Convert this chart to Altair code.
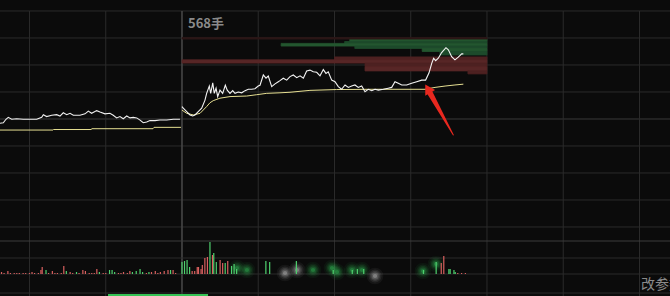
import altair as alt
import pandas as pd

W, H = 670, 296
X_DOMAIN = [-143.2, 384.0]      # minutes relative to today's open
P_DOMAIN = [-6.556, 4.407]      # price change, %
V_DOMAIN = [-22, 274]           # volume units

# ---- previous session -------------------------------------------------
prev_t = [-143.2, -140.6, -138.5, -136.7, -134.0, -130.1, -124.9, -119.6, -114.3, -110.4,
          -109.1, -106.5, -102.5, -98.6, -96.0, -93.4, -90.7, -88.1, -85.5, -80.3,
          -76.3, -73.7, -71.1, -67.1, -64.5, -60.6, -56.7, -54.1, -51.4, -48.8,
          -46.2, -43.5, -40.9, -38.3, -35.6, -33.0, -30.5, -27.8, -25.2, -21.2,
          -17.3, -12.0, -6.8, -1.6]
prev_p = [-0.16, -0.14, -0.01, 0.06, -0.01, 0.01, -0.01, -0.01, -0.01, 0.06,
          0.16, 0.09, 0.14, 0.16, 0.11, 0.23, 0.16, 0.21, 0.14, 0.14,
          0.19, 0.29, 0.21, 0.31, 0.26, 0.19, 0.21, 0.14, 0.04, 0.09,
          0.01, 0.11, 0.04, 0.06, 0.04, -0.04, -0.14, -0.11, -0.06, -0.06,
          -0.04, -0.04, -0.01, -0.01]
prev_avg_t = [-143.2, -101.5, -101.1, -71.6, -70.8, -22.8, -22.0, -0.8]
prev_avg_p = [-0.41, -0.41, -0.39, -0.39, -0.36, -0.36, -0.31, -0.31]

# ---- today ------------------------------------------------------------
day_t = [0, 1.0, 3.7, 6.3, 8.4, 10.2, 12.8, 15.5, 18.1, 19.4,
         21.5, 22.6, 24.2, 25.4, 26.8, 28.1, 29.9, 32.0, 34.1, 35.6,
         37.8, 39.9, 41.7, 44.3, 47.0, 49.6, 52.2, 54.8, 57.4, 60.0,
         61.4, 64.0, 66.1, 67.9, 70.6, 73.2, 75.8, 77.1, 79.7, 82.4,
         85.0, 87.6, 90.3, 92.9, 95.5, 98.1, 100.7, 103.3, 106.0, 108.6,
         111.2, 113.3, 115.1, 117.8, 120.4, 123.0, 125.6, 128.3, 130.9, 133.5,
         136.1, 138.7, 141.4, 144.0, 146.6, 149.3, 151.9, 154.5, 158.4, 162.3,
         165.0, 167.6, 170.2, 172.9, 176.8, 180.7, 184.7, 188.6, 191.7, 194.4,
         196.5, 198.0, 199.6, 201.7, 204.3, 207.7, 209.6, 212.2, 214.8, 217.4,
         220.1, 221.4]
day_p = [0.46, 0.40, 0.27, 0.15, 0.11, 0.15, 0.27, 0.40, 0.70, 0.95,
         1.22, 0.95, 1.34, 0.95, 1.14, 0.83, 1.07, 0.95, 1.25, 1.07,
         0.95, 1.05, 0.95, 1.00, 0.97, 1.05, 1.10, 1.10, 1.12, 1.22,
         1.25, 1.63, 1.51, 1.59, 1.20, 1.30, 1.38, 1.42, 1.51, 1.44,
         1.57, 1.63, 1.53, 1.60, 1.51, 1.78, 1.81, 1.75, 1.73, 1.60,
         1.83, 1.69, 1.75, 1.44, 1.38, 1.20, 1.10, 1.26, 1.17, 1.22,
         1.26, 1.17, 1.22, 1.01, 1.10, 1.05, 1.10, 1.07, 1.10, 1.14,
         1.17, 1.38, 1.32, 1.26, 1.26, 1.32, 1.38, 1.44, 1.44, 1.71,
         2.06, 2.25, 2.16, 2.25, 2.46, 2.64, 2.56, 2.31, 2.19, 2.29,
         2.41, 2.41]
avg_t = [0, 3.7, 9.0, 14.2, 19.4, 22.0, 24.6, 29.9, 37.8, 50.9, 58.8,
         66.7, 77.1, 85.0, 100.7, 121.7, 147.9, 191.2, 199.1, 207.0, 214.8, 221.4]
avg_p = [0.33, 0.21, 0.15, 0.21, 0.46, 0.60, 0.68, 0.77, 0.83, 0.85, 0.90,
         0.95, 0.97, 0.99, 1.06, 1.09, 1.10, 1.10, 1.17, 1.22, 1.26, 1.29]

# ---- order-book depth bars (price band, start time, tone) -------------
depth_lo = [2.87, 2.80, 2.70, 2.61, 2.50, 2.37, 2.96, 2.19, 2.07, 1.93, 1.78, 1.67]
depth_hi = [2.96, 2.87, 2.80, 2.70, 2.61, 2.50, 3.02, 2.30, 2.19, 2.07, 1.93, 1.78]
depth_start = [132, 128, 78, 136, 189, 203, 0, 120, 0, 144, 144, 225]
depth_end = 240
depth_tone = ["g2", "g1", "g2", "g1", "g2", "g1", "r0", "r1", "r2", "r1", "r2", "r1"]

# ---- volume -----------------------------------------------------------
vol_t = [-142, -140, -137, -135, -132, -130, -128, -125, -123, -120,
         -118, -116, -113, -111, -110, -107, -105, -102, -100, -98,
         -95, -93, -91, -88, -86, -83, -81, -78, -76, -73,
         -71, -69, -67, -65, -62, -60, -57, -55, -53, -50,
         -48, -46, -43, -41, -39, -36, -33, -31, -28, -26,
         -24, -21, -19, -17, -14, -11, -9, -7, -5,
         0, 2, 4, 6, 8, 10, 12, 13, 15, 16,
         18, 20, 22, 24, 25, 27, 30, 32, 34, 36,
         39, 41, 43, 66, 69, 90, 119, 134, 138, 143,
         190, 200, 204, 206, 210, 211, 214, 215, 217, 220, 223]
vol_v = [2, 1, 3, 1, 1, 1, 1, 1, 1, 1,
         2, 1, 1, 4, 7, 4, 1, 3, 1, 1,
         1, 8, 3, 2, 1, 2, 1, 4, 3, 1,
         1, 1, 5, 2, 1, 1, 4, 4, 2, 1,
         1, 2, 1, 3, 2, 3, 5, 2, 1, 2,
         2, 3, 1, 2, 3, 4, 4, 4, 1,
         12, 13, 14, 7, 3, 3, 7, 7, 5, 9,
         16, 17, 32, 19, 21, 12, 14, 11, 11, 13,
         8, 10, 5, 13, 12, 13, 4, 4, 5, 5,
         4, 12, 11, 18, 5, 5, 4, 2, 1, 1, 1]
vol_dir = ["d", "d", "d", "d", "d", "d", "d", "d", "d", "d",
           "d", "d", "d", "d", "d", "u", "d", "d", "d", "d",
           "d", "d", "u", "d", "d", "u", "d", "d", "d", "d",
           "d", "d", "d", "u", "d", "d", "u", "u", "u", "d",
           "d", "d", "d", "d", "u", "u", "u", "u", "d", "u",
           "d", "d", "d", "d", "d", "d", "u", "d", "d",
           "u", "u", "u", "u", "d", "d", "d", "d", "d", "d",
           "d", "d", "u", "d", "u", "u", "d", "d", "u", "d",
           "u", "u", "u", "u", "u", "u", "u", "u", "u", "u",
           "u", "u", "d", "d", "u", "u", "u", "u", "d", "d", "d"]

# soft glow artefacts in the volume pane
blob_t = [43.3, 51.1, 81.1, 90.5, 103.1, 118.0, 122.0, 133.8, 141.6, 151.9, 189.6, 199.8]
blob_v = [6, 4, 1, 4, 4, 6, 2, 4, 4, -2, 3, 10]
blob_tone = ["g", "g", "w", "w", "g", "g", "g", "g", "g", "w", "g", "g"]

# grid
grid_p = [4, 3, 2, 1, -1, -2, -3, -4]
grid_t = [-120, -60, 60, 120, 180, 240, 300, 360]
grid_v = [16, 0, -19]

# arrow
arrow_t = [213.5, 195.2]
arrow_p = [-0.59, 0.96]
arrow_w = [1, 5.5]

labels = ["568手"]

xs = alt.Scale(domain=X_DOMAIN, nice=False, zero=False)
ps = alt.Scale(domain=P_DOMAIN, nice=False, zero=False)
vs = alt.Scale(domain=V_DOMAIN, nice=False, zero=False)

def X(f):
    return alt.X(f, type="quantitative", scale=xs, axis=None)

def P(f):
    return alt.Y(f, type="quantitative", scale=ps, axis=None)

def V(f):
    return alt.Y(f, type="quantitative", scale=vs, axis=None)

GRID = "#2b2b2b"

hgrid = alt.Chart(pd.DataFrame({"p": grid_p})).mark_rule(color=GRID, strokeWidth=1).encode(y=P("p"))
hzero = alt.Chart(pd.DataFrame({"p": [0]})).mark_rule(color="#3a3a3a", strokeWidth=1).encode(y=P("p"))

vg = pd.DataFrame({"t": grid_t, "top": [grid_p[0]] * len(grid_t), "bot": [P_DOMAIN[0]] * len(grid_t)})
vgrid = alt.Chart(vg).mark_rule(color=GRID, strokeWidth=1).encode(
    x=X("t"), y=P("top"), y2="bot")
v0 = pd.DataFrame({"t": [0], "top": [grid_p[0]], "bot": [P_DOMAIN[0]]})
vzero = alt.Chart(v0).mark_rule(color="#454545", strokeWidth=1.6).encode(
    x=X("t"), y=P("top"), y2="bot")

volgrid = alt.Chart(pd.DataFrame({"v": grid_v})).mark_rule(color=GRID, strokeWidth=1).encode(y=V("v"))
volsep = alt.Chart(pd.DataFrame({"v": [max(vol_v) + 1]})).mark_rule(color="#3c3c3c", strokeWidth=1).encode(y=V("v"))

dd = pd.DataFrame({"lo": depth_lo, "hi": depth_hi, "s": depth_start,
                   "e": [depth_end] * len(depth_lo), "tone": depth_tone})
depth_scale = alt.Scale(domain=["g1", "g2", "r0", "r1", "r2"],
                        range=["#1d4a2b", "#23562f", "#2c1616", "#4d2121", "#572626"])
depth = alt.Chart(dd).mark_rect(strokeWidth=0.8).encode(
    x=X("s"), x2="e", y=P("lo"), y2="hi",
    color=alt.Color("tone:N", legend=None, scale=depth_scale),
    stroke=alt.Stroke("tone:N", legend=None, scale=depth_scale))

prev_line = alt.Chart(pd.DataFrame({"t": prev_t, "p": prev_p})).mark_line(
    color="#f0f0f0", strokeWidth=1.1).encode(x=X("t"), y=P("p"))
prev_avg = alt.Chart(pd.DataFrame({"t": prev_avg_t, "p": prev_avg_p})).mark_line(
    color="#e6df92", strokeWidth=1).encode(x=X("t"), y=P("p"))
day_avg = alt.Chart(pd.DataFrame({"t": avg_t, "p": avg_p})).mark_line(
    color="#e6df92", strokeWidth=1).encode(x=X("t"), y=P("p"))
day_line = alt.Chart(pd.DataFrame({"t": day_t, "p": day_p})).mark_line(
    color="#f4f4f4", strokeWidth=1.1).encode(x=X("t"), y=P("p"))

vd = pd.DataFrame({"t": vol_t, "v": vol_v, "d": vol_dir, "b": [0] * len(vol_t)})
vol = alt.Chart(vd).mark_rule(strokeWidth=1.2).encode(
    x=X("t"), y=V("v"), y2="b",
    color=alt.Color("d:N", legend=None,
                    scale=alt.Scale(domain=["u", "d"], range=["#4fd06e", "#d9605f"])))

bd = pd.DataFrame({"t": blob_t, "v": blob_v, "tone": blob_tone})
blob_scale = alt.Scale(domain=["g", "w"], range=["#34c058", "#c8c8c8"])
glow = [
    alt.Chart(bd).mark_circle(opacity=op, size=sz, strokeWidth=0).encode(
        x=X("t"), y=V("v"), color=alt.Color("tone:N", legend=None, scale=blob_scale))
    for sz, op in [(280, 0.06), (170, 0.09), (100, 0.13), (50, 0.2), (18, 0.35)]
]

scroll = alt.Chart(pd.DataFrame({"t": [-58.2], "t2": [20.5], "v": [-21]})).mark_rule(
    color="#35c455", strokeWidth=2).encode(x=X("t"), x2="t2", y=V("v"))

ad = pd.DataFrame({"t": arrow_t, "p": arrow_p, "w": arrow_w})
arrow = alt.Chart(ad).mark_trail(color="#e8281f").encode(
    x=X("t"), y=P("p"), size=alt.Size("w:Q", scale=None, legend=None))
head = alt.Chart(pd.DataFrame({"t": [194.0], "p": [1.07]})).mark_point(
    shape="triangle", filled=True, color="#e8281f", opacity=1, size=130, angle=330).encode(
    x=X("t"), y=P("p"))

label = alt.Chart(pd.DataFrame({"t": [4.7], "p": [3.52], "txt": labels})).mark_text(
    align="left", baseline="middle", fontSize=13, fontWeight="bold",
    font="Noto Sans CJK SC", color="#8a8a8a").encode(x=X("t"), y=P("p"), text="txt:N")
param = alt.Chart(pd.DataFrame({"t": [361.2], "v": [-11], "txt": ["改参数"]})).mark_text(
    align="left", baseline="middle", fontSize=14,
    font="Noto Sans CJK SC", color="#8a8a8a").encode(x=X("t"), y=V("v"), text="txt:N")

chart = alt.layer(
    hgrid, hzero, vgrid, vzero, volgrid, volsep,
    depth, prev_avg, prev_line, day_avg, day_line,
    *glow, vol, scroll, arrow, head, label, param
).resolve_scale(y="independent", color="independent", size="independent",
                stroke="independent").properties(
    width=W, height=H, background="#0b0b0b", padding=0, autosize="none"
).configure_view(stroke=None)

chart.save("out.html", embed_options={"renderer": "svg", "actions": False})
